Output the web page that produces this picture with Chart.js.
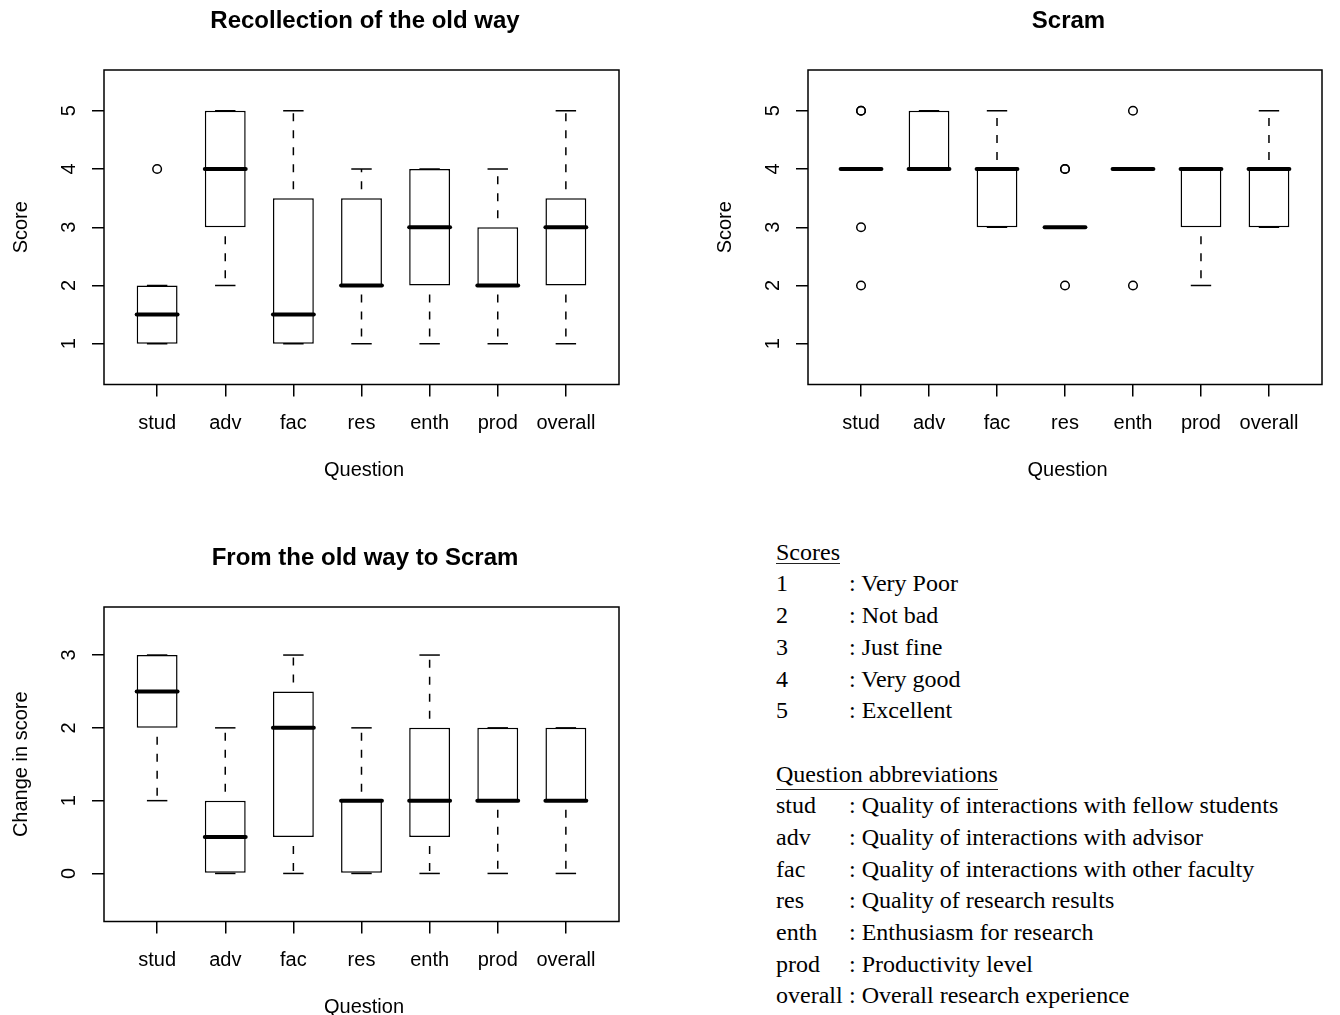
<!DOCTYPE html>
<html>
<head>
<meta charset="utf-8">
<script src="https://cdn.jsdelivr.net/npm/chart.js@4.4.1/dist/chart.umd.min.js"></script>
<style>
  html, body { margin: 0; padding: 0; background: #fff; }
  body { width: 1340px; height: 1015px; overflow: hidden; position: relative; }
  canvas { position: absolute; }
  #legende { position: absolute; left: 776px; top: 536.75px; font-family: "Liberation Serif", "Times New Roman", serif; font-size: 24px; color: #000; }
  .ligne { position: relative; height: 31.7px; line-height: 31.7px; white-space: nowrap; }
  .cle { position: absolute; left: 0; }
  .desc { position: absolute; left: 73px; }
  .souligne { position: absolute; left: 0; height: 1px; background: #222; }
</style>
</head>
<body>
<canvas id="avant" width="670" height="507" style="left:0;top:0"></canvas>
<canvas id="scram" width="636" height="507" style="left:704px;top:0"></canvas>
<canvas id="ecart" width="670" height="507" style="left:0;top:537px"></canvas>
<div id="legende"></div>
<script>
// Questions (axe x)
const questions = ["stud", "adv", "fac", "res", "enth", "prod", "overall"];

// Recollection of the old way : moustache basse, Q1, médiane, Q3, moustache haute
const avantBas = [1, 2, 1, 1, 1, 1, 1];
const avantQ1 = [1, 3, 1, 2, 2, 2, 2];
const avantMed = [1.5, 4, 1.5, 2, 3, 2, 3];
const avantQ3 = [2, 5, 3.5, 3.5, 4, 3, 3.5];
const avantHaut = [2, 5, 5, 4, 4, 4, 5];
const avantHors = [[4], [], [], [], [], [], []];

// Scram
const scramBas = [4, 4, 3, 3, 4, 2, 3];
const scramQ1 = [4, 4, 3, 3, 4, 3, 3];
const scramMed = [4, 4, 4, 3, 4, 4, 4];
const scramQ3 = [4, 5, 4, 3, 4, 4, 4];
const scramHaut = [4, 5, 5, 3, 4, 4, 5];
const scramHors = [[5, 5, 3, 2], [], [], [4, 4, 2], [5, 2], [], []];

// From the old way to Scram
const ecartBas = [1, 0, 0, 0, 0, 0, 0];
const ecartQ1 = [2, 0, 0.5, 0, 0.5, 1, 1];
const ecartMed = [2.5, 0.5, 2, 1, 1, 1, 1];
const ecartQ3 = [3, 1, 2.5, 1, 2, 2, 2];
const ecartHaut = [3, 2, 3, 2, 3, 2, 2];
const ecartHors = [[], [], [], [], [], [], []];

// Graduations
const ticksScore = [1, 2, 3, 4, 5];
const ticksEcart = [0, 1, 2, 3];

// Légende
const scoreCodes = ["1", "2", "3", "4", "5"];
const scoreNoms = ["Very Poor", "Not bad", "Just fine", "Very good", "Excellent"];
const questionNoms = [
    "Quality of interactions with fellow students",
    "Quality of interactions with advisor",
    "Quality of interactions with other faculty",
    "Quality of research results",
    "Enthusiasm for research",
    "Productivity level",
    "Overall research experience"
];

Chart.defaults.font.family = "'Liberation Sans', Arial, Helvetica, sans-serif";
Chart.defaults.color = "#000";

// moustaches, médianes, cadre, titres et étiquettes de l'axe y
function moustaches(titre, bas, q1, med, q3, haut, yTicks) {
    return {
        id: "moustaches",
        beforeDatasetsDraw(chart) {
            const ctx = chart.ctx;
            const x = chart.scales.x, y = chart.scales.y;
            ctx.save();
            ctx.strokeStyle = "#000";
            ctx.lineWidth = 1.5;
            bas.forEach((b, i) => {
                const px = x.getPixelForValue(i + 1);
                ctx.setLineDash([8, 9]);
                ctx.lineDashOffset = 8;
                [[q3[i], haut[i]], [q1[i], b]].forEach(([de, a]) => {
                    if (de === a) return;
                    ctx.beginPath();
                    ctx.moveTo(px, y.getPixelForValue(de));
                    ctx.lineTo(px, y.getPixelForValue(a));
                    ctx.stroke();
                });
                ctx.setLineDash([]);
                const demi = x.getPixelForValue(i + 1.15) - px;
                [b, haut[i]].forEach(v => {
                    const py = y.getPixelForValue(v);
                    ctx.beginPath();
                    ctx.moveTo(px - demi, py);
                    ctx.lineTo(px + demi, py);
                    ctx.stroke();
                });
            });
            ctx.restore();
        },
        afterDatasetsDraw(chart) {
            const ctx = chart.ctx;
            const x = chart.scales.x, y = chart.scales.y;
            const zone = chart.chartArea;
            ctx.save();
            ctx.strokeStyle = "#000";
            ctx.lineWidth = 4;
            ctx.lineCap = "round";
            med.forEach((m, i) => {
                const px = x.getPixelForValue(i + 1);
                const demi = x.getPixelForValue(i + 1.3) - px;
                const py = y.getPixelForValue(m);
                ctx.beginPath();
                ctx.moveTo(px - demi, py);
                ctx.lineTo(px + demi, py);
                ctx.stroke();
            });
            ctx.lineCap = "butt";
            ctx.lineWidth = 1.5;
            ctx.strokeRect(zone.left, zone.top, zone.right - zone.left, zone.bottom - zone.top);

            ctx.fillStyle = "#000";
            ctx.textAlign = "center";
            ctx.textBaseline = "alphabetic";
            const milieu = (zone.left + zone.right) / 2;
            ctx.font = "bold 24px 'Liberation Sans', Arial, sans-serif";
            ctx.fillText(titre, milieu + 3.5, 28.3);
            ctx.font = "20px 'Liberation Sans', Arial, sans-serif";
            ctx.fillText("Question", milieu + 2.5, 475.8);
            yTicks.forEach(v => {
                ctx.save();
                ctx.translate(zone.left - 29, y.getPixelForValue(v));
                ctx.rotate(-Math.PI / 2);
                ctx.fillText(String(v), 0, 0);
                ctx.restore();
            });
            ctx.restore();
        }
    };
}

function tracerBoxplot(id, titre, titreY, yMin, yMax, yTicks, bas, q1, med, q3, haut, hors, margeDroite) {
    const pointsHors = [];
    hors.forEach((liste, i) => liste.forEach(v => pointsHors.push({ x: i + 1, y: v })));

    new Chart(document.getElementById(id), {
        type: "bar",
        data: {
            datasets: [
                {
                    type: "bar",
                    data: questions.map((q, i) => ({ x: i + 1, y: [q1[i], q3[i]] })),
                    backgroundColor: "#fff",
                    borderColor: "#000",
                    borderWidth: 1.5,
                    borderSkipped: false,
                    barPercentage: 0.6,
                    categoryPercentage: 1
                },
                {
                    type: "scatter",
                    data: pointsHors,
                    pointRadius: 4.3,
                    pointBorderWidth: 1.5,
                    pointBackgroundColor: "rgba(0,0,0,0)",
                    pointBorderColor: "#000"
                }
            ]
        },
        options: {
            responsive: false,
            animation: false,
            events: [],
            layout: { padding: { left: 0, right: margeDroite, top: 70, bottom: 0 } },
            plugins: {
                legend: { display: false },
                tooltip: { enabled: false },
                title: { display: false }
            },
            scales: {
                x: {
                    type: "linear",
                    min: 0.22,
                    max: 7.78,
                    offset: false,
                    afterBuildTicks: axe => { axe.ticks = questions.map((q, i) => ({ value: i + 1 })); },
                    afterFit: axe => { axe.height = 122.5; },
                    ticks: {
                        callback: v => questions[v - 1],
                        font: { size: 20 },
                        color: "#000",
                        padding: 14.6,
                        maxRotation: 0,
                        autoSkip: false
                    },
                    grid: { offset: false, drawOnChartArea: false, drawTicks: true, tickLength: 12, color: "#000", lineWidth: 1.5 },
                    border: { display: false },
                    title: { display: false }
                },
                y: {
                    type: "linear",
                    min: yMin,
                    max: yMax,
                    afterBuildTicks: axe => { axe.ticks = yTicks.map(v => ({ value: v })); },
                    afterFit: axe => { axe.width = 104; },
                    ticks: { display: false },
                    grid: { drawOnChartArea: false, drawTicks: true, tickLength: 12, color: "#000", lineWidth: 1.5 },
                    border: { display: false },
                    title: { display: true, text: titreY, color: "#000", font: { size: 20 }, padding: { top: 9.1, bottom: 0 } }
                }
            }
        },
        plugins: [moustaches(titre, bas, q1, med, q3, haut, yTicks)]
    });
}

tracerBoxplot("avant", "Recollection of the old way", "Score", 0.3, 5.7, ticksScore,
    avantBas, avantQ1, avantMed, avantQ3, avantHaut, avantHors, 51);
tracerBoxplot("scram", "Scram", "Score", 0.3, 5.7, ticksScore,
    scramBas, scramQ1, scramMed, scramQ3, scramHaut, scramHors, 18);
tracerBoxplot("ecart", "From the old way to Scram", "Change in score", -0.66, 3.66, ticksEcart,
    ecartBas, ecartQ1, ecartMed, ecartQ3, ecartHaut, ecartHors, 51);

// Légende texte
const legende = document.getElementById("legende");
function ajouterLigne(cle, desc, souligne) {
    const ligne = document.createElement("div");
    ligne.className = "ligne";
    const c = document.createElement("span");
    c.className = "cle";
    c.textContent = cle;
    ligne.appendChild(c);
    if (desc !== null) {
        const d = document.createElement("span");
        d.className = "desc";
        d.textContent = ": " + desc;
        ligne.appendChild(d);
    }
    legende.appendChild(ligne);
    if (souligne) {
        const trait = document.createElement("div");
        trait.className = "souligne";
        trait.style.top = (23.95 + souligne) + "px";
        trait.style.width = c.offsetWidth + "px";
        ligne.appendChild(trait);
    }
}
ajouterLigne("Scores", null, 2.6);
scoreCodes.forEach((s, i) => ajouterLigne(s, scoreNoms[i], 0));
ajouterLigne("", null, 0);
ajouterLigne("Question abbreviations", null, 6.7);
questions.forEach((q, i) => ajouterLigne(q, questionNoms[i], 0));
</script>
</body>
</html>
